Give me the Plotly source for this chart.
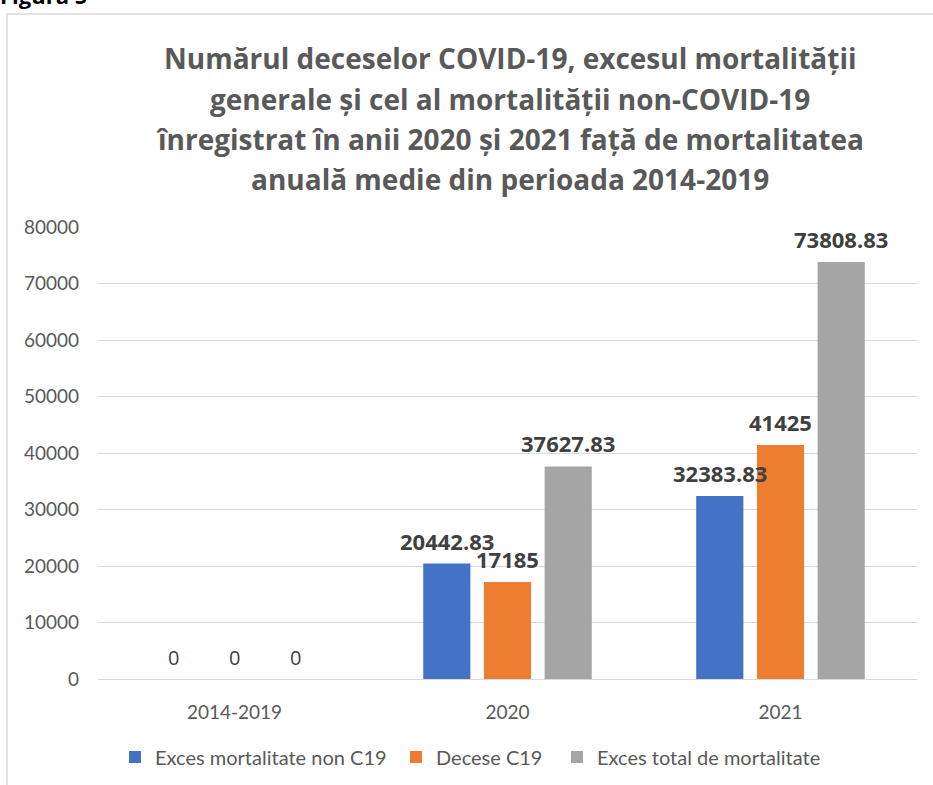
import plotly.graph_objects as go

categories = ["2014-2019", "2020", "2021"]
series_names = ["Exces mortalitate non C19", "Decese C19", "Exces total de mortalitate"]
exces_non_c19 = [0, 20442.83, 32383.83]
decese_c19 = [0, 17185, 41425]
exces_total = [0, 37627.83, 73808.83]
value_labels_non_c19 = ["0", "20442.83", "32383.83"]
value_labels_c19 = ["0", "17185", "41425"]
value_labels_total = ["0", "37627.83", "73808.83"]
y_ticks = [0, 10000, 20000, 30000, 40000, 50000, 60000, 70000, 80000]
title_lines = [
    "Numărul deceselor COVID-19, excesul mortalității",
    "generale și cel al mortalității non-COVID-19",
    "înregistrat în anii 2020 și 2021 față de mortalitatea",
    "anuală medie din perioada 2014-2019",
]

colors = ["#4472C4", "#ED7D31", "#A5A5A5"]
FONT = "Lato"
TFONT = "Open Sans"
BARGAP = 0.333
BARGROUPGAP = 0.223

W, H = 933, 785
ML, MR, MT, MB = 98, 16, 227, 106

fig = go.Figure()
all_vals = [exces_non_c19, decese_c19, exces_total]
all_labels = [value_labels_non_c19, value_labels_c19, value_labels_total]
legend_widths = [236, 116, 226]
for name, vals, col, lw in zip(series_names, all_vals, colors, legend_widths):
    fig.add_trace(go.Bar(name=name, x=categories, y=vals, marker_color=col,
                         marker_line_width=0, legendwidth=lw))

slot = (1 - BARGAP) / 3
annotations = []
for k, (vals, labs) in enumerate(zip(all_vals, all_labels)):
    for i, (v, t) in enumerate(zip(vals, labs)):
        if v == 0:
            txt, fnt = t, dict(family=TFONT, size=20, color="#404040")
        else:
            txt, fnt = "<b>%s</b>" % t, dict(family=TFONT, size=22, color="#404040")
        annotations.append(dict(
            x=i + (k - 1) * slot, y=v, xref="x", yref="y", text=txt,
            showarrow=False, yanchor="bottom", yshift=6, font=fnt))

plot_h = H - MT - MB
plot_w = W - ML - MR
def py(pix):
    return (H - MB - pix) / plot_h
def px(pix):
    return (pix - ML) / plot_w

title_y = [58, 99, 139, 179]
for line, yc in zip(title_lines, title_y):
    annotations.append(dict(
        x=px(510), y=py(yc), xref="paper", yref="paper",
        text="<b>%s</b>" % line, showarrow=False, xanchor="center", yanchor="middle",
        font=dict(family=TFONT, size=28, color="#595959")))

annotations.append(dict(
    x=px(-2), y=py(-5), xref="paper", yref="paper",
    text="<b>Figura 5</b>", showarrow=False, xanchor="left", yanchor="middle",
    font=dict(family=TFONT, size=22, color="#000000")))

fig.update_layout(
    width=W, height=H,
    margin=dict(l=ML, r=MR, t=MT, b=MB, autoexpand=False),
    paper_bgcolor="white", plot_bgcolor="white",
    barmode="group", bargap=BARGAP, bargroupgap=BARGROUPGAP,
    font=dict(family=FONT, color="#595959"),
    annotations=annotations,
    showlegend=True,
    legend=dict(orientation="h", x=px(115), xanchor="left",
                y=py(757), yanchor="middle",
                font=dict(family=FONT, size=20, color="#595959"),
                traceorder="normal"),
    shapes=[dict(type="rect", xref="paper", yref="paper",
                 x0=px(7), x1=px(W + 5), y0=py(H + 5), y1=py(14),
                 line=dict(color="#D9D9D9", width=1.5), layer="below")],
)
fig.update_yaxes(range=[0, 80000], tickvals=y_ticks, tickformat="d",
                 showgrid=True, gridcolor="#D9D9D9", gridwidth=1,
                 zeroline=False, showline=False, ticks="",
                 ticklabelstandoff=18,
                 tickfont=dict(family=FONT, size=19, color="#595959"))
fig.update_xaxes(showline=True, linecolor="#D9D9D9", linewidth=1, ticks="",
                 ticklabelstandoff=16,
                 tickfont=dict(family=FONT, size=19, color="#595959"))

fig.write_html("out.html", config={"displayModeBar": False},
               post_script="document.body.style.margin='0px';")
